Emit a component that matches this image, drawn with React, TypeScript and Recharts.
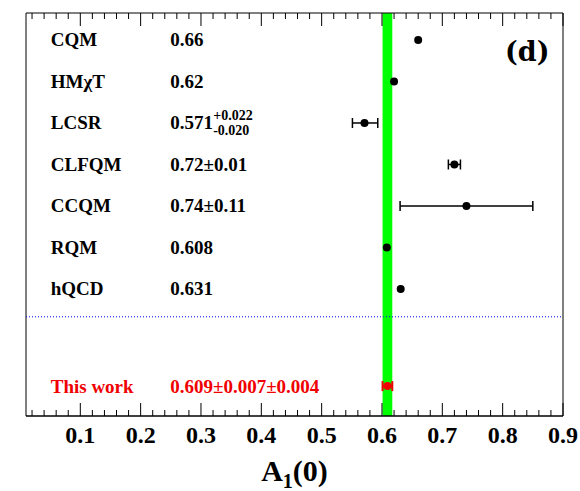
import React from 'react';
import {
  ComposedChart,
  Scatter,
  XAxis,
  YAxis,
  ErrorBar,
  ReferenceArea,
  ReferenceLine,
  ReferenceDot,
} from 'recharts';

// ---------- data ----------
const models = ['CQM', 'HMχT', 'LCSR', 'CLFQM', 'CCQM', 'RQM', 'hQCD'];
const modelValues = [0.66, 0.62, 0.571, 0.72, 0.74, 0.608, 0.631];
const modelErrMinus: (number | null)[] = [null, null, 0.02, 0.01, 0.11, null, null];
const modelErrPlus: (number | null)[] = [null, null, 0.022, 0.01, 0.11, null, null];
const modelLabels = ['0.66', '0.62', '0.571', '0.72±0.01', '0.74±0.11', '0.608', '0.631'];
const lcsrSup = '+0.022';
const lcsrSub = '-0.020';

const thisWorkName = 'This work';
const thisWorkValue = 0.609;
const thisWorkStat = 0.007;
const thisWorkSyst = 0.004;
const thisWorkLabel = '0.609±0.007±0.004';

const majorTicks = [0.1, 0.2, 0.3, 0.4, 0.5, 0.6, 0.7, 0.8, 0.9];
const tickLabels = ['0.1', '0.2', '0.3', '0.4', '0.5', '0.6', '0.7', '0.8', '0.9'];

// ---------- layout ----------
const X_DOMAIN: [number, number] = [0.01, 0.9];
const Y_DOMAIN: [number, number] = [-0.06, 9.65];
const TOP_ROW = 9;
const THIS_WORK_ROW = 0.66;
const DIVIDER_ROW = 2.33;
const NAME_X = 0.051;
const VALUE_X = 0.249;
const PLOT_TOP = 13;
const FONT = "'Liberation Serif', 'Times New Roman', serif";
const RED = '#f00000';

const totalErr = Math.sqrt(thisWorkStat * thisWorkStat + thisWorkSyst * thisWorkSyst);

const minorTicks: number[] = [];
for (let k = 1; k <= 44; k++) {
  const h = k * 2;
  if (h % 10 !== 0) minorTicks.push(h / 100);
}
const allTicks = [...majorTicks, ...minorTicks].sort((a, b) => a - b);

const rowY = (i: number) => TOP_ROW - i;

const plainPoints = models
  .map((m, i) => ({ name: m, x: modelValues[i], y: rowY(i), has: modelErrMinus[i] != null }))
  .filter((d) => !d.has);
const errPoints = models
  .map((m, i) => ({
    name: m,
    x: modelValues[i],
    y: rowY(i),
    err: [modelErrMinus[i] ?? 0, modelErrPlus[i] ?? 0],
    has: modelErrMinus[i] != null,
  }))
  .filter((d) => d.has);
const thisWorkPoints = [{ name: thisWorkName, x: thisWorkValue, y: THIS_WORK_ROW, err: totalErr }];

function XTick(props: any) {
  const { x, y, payload } = props;
  const v = payload.value;
  const idx = majorTicks.findIndex((t) => Math.abs(t - v) < 1e-6);
  const major = idx >= 0;
  const len = major ? 13 : 6;
  return (
    <g>
      <line x1={x} y1={y} x2={x} y2={y - len} stroke="#000" strokeWidth={1} />
      <line x1={x} y1={PLOT_TOP} x2={x} y2={PLOT_TOP + len} stroke="#000" strokeWidth={1} />
      {major && (
        <text
          x={x}
          y={y + 27}
          textAnchor="middle"
          fontFamily={FONT}
          fontWeight="bold"
          fontSize={24}
          fill="#000"
        >
          {tickLabels[idx]}
        </text>
      )}
    </g>
  );
}

const Dot = (color: string) => (p: any) => <circle cx={p.cx} cy={p.cy} r={4} fill={color} />;

const textShape = (txt: string, color: string, size = 19) => (p: any) => (
  <text
    x={p.cx}
    y={p.cy + 6.5}
    fontFamily={FONT}
    fontWeight="bold"
    fontSize={size}
    fill={color}
  >
    {txt}
  </text>
);

const lcsrShape = (p: any) => (
  <g fontFamily={FONT} fontWeight="bold" fill="#000">
    <text x={p.cx} y={p.cy + 6.5} fontSize={19}>
      {modelLabels[2]}
    </text>
    <text x={p.cx + 43} y={p.cy - 3} fontSize={14}>
      {lcsrSup}
    </text>
    <text x={p.cx + 43} y={p.cy + 12} fontSize={14}>
      {lcsrSub}
    </text>
  </g>
);

const dShape = (p: any) => (
  <text x={p.cx} y={p.cy} fontFamily="'DejaVu Serif', serif" fontWeight="bold" fontSize={27} fill="#000">
    (d)
  </text>
);

const AxisTitle = (props: any) => {
  const vb = props.viewBox || {};
  const cx = vb.x + vb.width / 2;
  const by = vb.y + 65;
  return (
    <text x={cx} y={by} textAnchor="middle" fontFamily={FONT} fontWeight="bold" fontSize={30} fill="#000">
      <tspan>A</tspan>
      <tspan fontSize={20} dy={7}>1</tspan>
      <tspan dy={-7}>(0)</tspan>
    </text>
  );
};

export default function App() {
  return (
    <div style={{ position: 'absolute', left: 0, top: 0, width: 580, height: 491, background: '#fff' }}>
      <ComposedChart
        width={580}
        height={491}
        margin={{ top: PLOT_TOP, right: 17, bottom: 0, left: 26 }}
      >
        <XAxis
          type="number"
          dataKey="x"
          domain={X_DOMAIN}
          allowDataOverflow
          ticks={allTicks}
          interval={0}
          tickSize={0}
          tickMargin={0}
          tickLine={false}
          tick={<XTick />}
          height={75}
          axisLine={{ stroke: '#000' }}
          label={{ content: <AxisTitle /> } as any}
        />
        <YAxis type="number" dataKey="y" domain={Y_DOMAIN} allowDataOverflow hide />

        <ReferenceArea
          x1={thisWorkValue - totalErr}
          x2={thisWorkValue + totalErr}
          y1={Y_DOMAIN[0]}
          y2={Y_DOMAIN[1]}
          fill="#00ff00"
          fillOpacity={1}
          stroke="none"
        />
        <ReferenceLine y={DIVIDER_ROW} stroke="#0000ff" strokeDasharray="1 2" strokeWidth={1} />

        {models.map((m, i) => (
          <ReferenceDot key={'n' + m} x={NAME_X} y={rowY(i)} shape={textShape(m, '#000')} />
        ))}
        {models.map((m, i) => (
          <ReferenceDot
            key={'v' + m}
            x={VALUE_X}
            y={rowY(i)}
            shape={i === 2 ? lcsrShape : textShape(modelLabels[i], '#000')}
          />
        ))}
        <ReferenceDot x={NAME_X} y={THIS_WORK_ROW} shape={textShape(thisWorkName, RED)} />
        <ReferenceDot x={VALUE_X} y={THIS_WORK_ROW} shape={textShape(thisWorkLabel, RED)} />
        <ReferenceDot x={0.804} y={8.49} shape={dShape} />

        <Scatter data={plainPoints} shape={Dot('#000')} isAnimationActive={false} />
        <Scatter data={errPoints} shape={Dot('#000')} isAnimationActive={false}>
          <ErrorBar dataKey="err" direction="x" width={5} stroke="#000" strokeWidth={1.5} />
        </Scatter>
        <Scatter data={thisWorkPoints} shape={Dot(RED)} isAnimationActive={false}>
          <ErrorBar dataKey="err" direction="x" width={5} stroke={RED} strokeWidth={2} />
        </Scatter>

        <ReferenceArea
          x1={X_DOMAIN[0]}
          x2={X_DOMAIN[1]}
          y1={Y_DOMAIN[0]}
          y2={Y_DOMAIN[1]}
          fill="none"
          stroke="#000"
          strokeWidth={1}
        />
      </ComposedChart>
    </div>
  );
}
